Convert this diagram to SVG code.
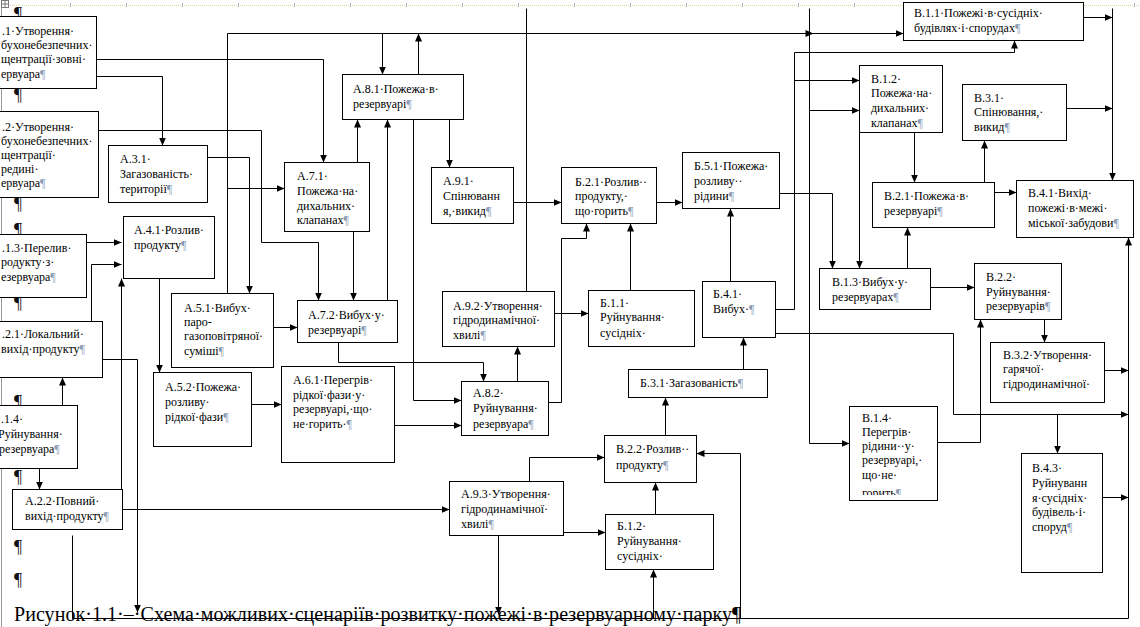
<svg xmlns="http://www.w3.org/2000/svg" width="1140" height="627" viewBox="0 0 1140 627">
<style>
rect.n{fill:#fff;stroke:#000;stroke-width:1}
text{font-family:"Liberation Serif","Times New Roman",serif;font-size:12px;fill:#000}
.pm{fill:#8a9bb5}
.mp{font-size:18px;fill:#111}
.cap{font-size:20px}
.c{fill:none;stroke:#000;stroke-width:1;marker-end:url(#ah)}
.l{fill:none;stroke:#000;stroke-width:1}
</style>
<defs>
<marker id="ah" markerUnits="userSpaceOnUse" markerWidth="9" markerHeight="8" refX="8" refY="4" orient="auto"><path d="M0,0.5 L8,4 L0,7.5 z" fill="#000"/></marker>
<clipPath id="clv14"><rect x="849" y="406" width="90" height="89"/></clipPath>
</defs>
<rect width="1140" height="627" fill="#fff"/>
<g id="page-marks">
<line x1="10" y1="5.5" x2="1140" y2="5.5" stroke="#e3d49a" stroke-dasharray="1 1"/>
<path d="M70.5,3v4M126.5,3v4M182.5,3v4M238.5,3v4M294.5,3v4M350.5,3v4M406.5,3v4M462.5,3v4M518.5,3v4M574.5,3v4M630.5,3v4M686.5,3v4M742.5,3v4M798.5,3v4M854.5,3v4M910.5,3v4M966.5,3v4M1022.5,3v4M1078.5,3v4M1134.5,3v4" stroke="#b8b8b8"/>
<line x1="1.5" y1="0" x2="1.5" y2="627" stroke="#9a9a9a"/>
<rect x="1.5" y="0.5" width="7" height="7" fill="#fff" stroke="#777"/>
<path d="M5,1v6M2,4h6" stroke="#777"/>
<text class="mp" x="14" y="20">¶</text>
<text class="mp" x="14" y="101">¶</text>
<text class="mp" x="14" y="210">¶</text>
<text class="mp" x="14" y="236">¶</text>
<text class="mp" x="14" y="309">¶</text>
<text class="mp" x="14" y="408">¶</text>
<text class="mp" x="14" y="483">¶</text>
<text class="mp" x="14" y="553">¶</text>
<text class="mp" x="14" y="586">¶</text>
</g>
<g id="a11"><rect class="n" x="-9.5" y="16.5" width="106" height="72"/><text x="2" y="35">.1·Утворення·</text><text x="1" y="49">бухонебезпечних·</text><text x="1" y="63">щентрації·зовні·</text><text x="1" y="78">ервуара<tspan class="pm">¶</tspan></text></g>
<g id="a12"><rect class="n" x="-9.5" y="111.5" width="108" height="86"/><text x="2" y="131">.2·Утворення·</text><text x="1" y="145">бухонебезпечних·</text><text x="1" y="159">щентрації·</text><text x="1" y="173">редині·</text><text x="1" y="187">ервуара<tspan class="pm">¶</tspan></text></g>
<g id="a31"><rect class="n" x="108.5" y="145.5" width="99" height="57"/><text x="120" y="163">А.3.1·</text><text x="120" y="178">Загазованість·</text><text x="120" y="193">території<tspan class="pm">¶</tspan></text></g>
<g id="a13"><rect class="n" x="-9.5" y="234.5" width="96" height="63"/><text x="2" y="252">.1.3·Перелив·</text><text x="1" y="266">родукту·з·</text><text x="1" y="281">езервуара<tspan class="pm">¶</tspan></text></g>
<g id="a41"><rect class="n" x="123.5" y="216.5" width="91" height="62"/><text x="134" y="234">А.4.1·Розлив·</text><text x="134" y="249">продукту<tspan class="pm">¶</tspan></text></g>
<g id="a21"><rect class="n" x="-9.5" y="321.5" width="112" height="56"/><text x="2" y="338">.2.1·Локальний·</text><text x="1" y="353">вихід·продукту<tspan class="pm">¶</tspan></text></g>
<g id="a51"><rect class="n" x="171.5" y="293.5" width="102" height="74"/><text x="184" y="312">А.5.1·Вибух·</text><text x="184" y="326">паро-</text><text x="184" y="340">газоповітряної·</text><text x="184" y="355">суміші<tspan class="pm">¶</tspan></text></g>
<g id="a52"><rect class="n" x="153.5" y="372.5" width="98" height="74"/><text x="165" y="391">А.5.2·Пожежа·</text><text x="165" y="406">розливу·</text><text x="165" y="421">рідкої·фази<tspan class="pm">¶</tspan></text></g>
<g id="a14"><rect class="n" x="-9.5" y="405.5" width="87" height="63"/><text x="1" y="423">.1.4·</text><text x="-2" y="438">Руйнування·</text><text x="-1" y="453">резервуара<tspan class="pm">¶</tspan></text></g>
<g id="a22"><rect class="n" x="12.5" y="489.5" width="110" height="40"/><text x="25" y="505">А.2.2·Повний·</text><text x="25" y="520">вихід·продукту<tspan class="pm">¶</tspan></text></g>
<g id="a71"><rect class="n" x="284.5" y="162.5" width="85" height="69"/><text x="297" y="180">А.7.1·</text><text x="297" y="195">Пожежа·на·</text><text x="297" y="210">дихальних·</text><text x="297" y="224">клапанах<tspan class="pm">¶</tspan></text></g>
<g id="a81"><rect class="n" x="342.5" y="74.5" width="121" height="45"/><text x="353" y="93">А.8.1·Пожежа·в·</text><text x="353" y="108">резервуарі<tspan class="pm">¶</tspan></text></g>
<g id="a91"><rect class="n" x="431.5" y="167.5" width="82" height="56"/><text x="443" y="185">А.9.1·</text><text x="443" y="200">Спінюванн</text><text x="443" y="215">я,·викид<tspan class="pm">¶</tspan></text></g>
<g id="a72"><rect class="n" x="297.5" y="300.5" width="100" height="42"/><text x="308" y="319">А.7.2·Вибух·у·</text><text x="308" y="334">резервуарі<tspan class="pm">¶</tspan></text></g>
<g id="a61"><rect class="n" x="281.5" y="366.5" width="113" height="96"/><text x="293" y="384">А.6.1·Перегрів·</text><text x="293" y="399">рідкої·фази·у·</text><text x="293" y="413">резервуарі,·що·</text><text x="293" y="428">не·горить·<tspan class="pm">¶</tspan></text></g>
<g id="a82"><rect class="n" x="461.5" y="381.5" width="87" height="54"/><text x="473" y="397">А.8.2·</text><text x="473" y="412">Руйнування·</text><text x="473" y="428">резервуара<tspan class="pm">¶</tspan></text></g>
<g id="a92"><rect class="n" x="442.5" y="291.5" width="112" height="55"/><text x="453" y="310">А.9.2·Утворення·</text><text x="453" y="324">гідродинамічної·</text><text x="453" y="339">хвилі<tspan class="pm">¶</tspan></text></g>
<g id="a93"><rect class="n" x="449.5" y="481.5" width="114" height="54"/><text x="461" y="498">А.9.3·Утворення·</text><text x="461" y="513">гідродинамічної·</text><text x="461" y="528">хвилі<tspan class="pm">¶</tspan></text></g>
<g id="b21"><rect class="n" x="561.5" y="167.5" width="95" height="56"/><text x="575" y="186">Б.2.1·Розлив··</text><text x="575" y="200">продукту,·</text><text x="575" y="215">що·горить<tspan class="pm">¶</tspan></text></g>
<g id="b51"><rect class="n" x="682.5" y="152.5" width="97" height="56"/><text x="694" y="170">Б.5.1·Пожежа·</text><text x="694" y="185">розливу··</text><text x="694" y="200">рідини<tspan class="pm">¶</tspan></text></g>
<g id="b11"><rect class="n" x="588.5" y="290.5" width="106" height="56"/><text x="600" y="307">Б.1.1·</text><text x="600" y="321">Руйнування·</text><text x="600" y="337">сусідніх·</text></g>
<g id="b41"><rect class="n" x="702.5" y="281.5" width="73" height="56"/><text x="713" y="298">Б.4.1·</text><text x="713" y="313">Вибух·<tspan class="pm">¶</tspan></text></g>
<g id="b31"><rect class="n" x="628.5" y="369.5" width="139" height="28"/><text x="640" y="387">Б.3.1·Загазованість<tspan class="pm">¶</tspan></text></g>
<g id="v22a"><rect class="n" x="604.5" y="435.5" width="92" height="47"/><text x="616" y="453">В.2.2·Розлив··</text><text x="616" y="469">продукту<tspan class="pm">¶</tspan></text></g>
<g id="b12"><rect class="n" x="605.5" y="514.5" width="108" height="55"/><text x="617" y="530">Б.1.2·</text><text x="617" y="545">Руйнування·</text><text x="617" y="560">сусідніх·</text></g>
<g id="v11"><rect class="n" x="903.5" y="2.5" width="180" height="38"/><text x="914" y="17">В.1.1·Пожежі·в·сусідніх·</text><text x="914" y="32">будівлях·і·спорудах<tspan class="pm">¶</tspan></text></g>
<g id="v12"><rect class="n" x="859.5" y="65.5" width="83" height="67"/><text x="871" y="83">В.1.2·</text><text x="871" y="97">Пожежа·на·</text><text x="871" y="112">дихальних·</text><text x="871" y="127">клапанах<tspan class="pm">¶</tspan></text></g>
<g id="v31"><rect class="n" x="962.5" y="84.5" width="104" height="56"/><text x="974" y="102">В.3.1·</text><text x="974" y="116">Спінювання,·</text><text x="974" y="131">викид<tspan class="pm">¶</tspan></text></g>
<g id="v21"><rect class="n" x="872.5" y="182.5" width="122" height="45"/><text x="884" y="200">В.2.1·Пожежа·в·</text><text x="884" y="215">резервуарі<tspan class="pm">¶</tspan></text></g>
<g id="v41"><rect class="n" x="1016.5" y="180.5" width="117" height="57"/><text x="1028" y="197">В.4.1·Вихід·</text><text x="1028" y="212">пожежі·в·межі·</text><text x="1028" y="227">міської·забудови<tspan class="pm">¶</tspan></text></g>
<g id="v13"><rect class="n" x="819.5" y="268.5" width="111" height="41"/><text x="832" y="286">В.1.3·Вибух·у·</text><text x="832" y="301">резервуарах<tspan class="pm">¶</tspan></text></g>
<g id="v22b"><rect class="n" x="974.5" y="263.5" width="87" height="56"/><text x="986" y="281">В.2.2·</text><text x="986" y="296">Руйнування·</text><text x="986" y="310">резервуарів<tspan class="pm">¶</tspan></text></g>
<g id="v32"><rect class="n" x="990.5" y="342.5" width="114" height="60"/><text x="1003" y="359">В.3.2·Утворення·</text><text x="1003" y="373">гарячої·</text><text x="1003" y="388">гідродинамічної·</text></g>
<g id="v14"><rect class="n" x="849.5" y="406.5" width="88" height="94"/><g clip-path="url(#clv14)"><text x="862" y="422">В.1.4·</text><text x="862" y="436">Перегрів·</text><text x="862" y="450">рідини··у·</text><text x="862" y="464">резервуарі,·</text><text x="862" y="479">що·не·</text><text x="862" y="497">горить<tspan class="pm">¶</tspan></text></g></g>
<g id="v43"><rect class="n" x="1021.5" y="453.5" width="81" height="119"/><text x="1032" y="472">В.4.3·</text><text x="1032" y="487">Руйнуванн</text><text x="1032" y="502">я·сусідніх·</text><text x="1032" y="516">будівель·і·</text><text x="1032" y="531">споруд<tspan class="pm">¶</tspan></text></g>
<g id="caption"><text class="cap" x="14" y="621" textLength="718" lengthAdjust="spacing">Рисунок·1.1·–·Схема·можливих·сценаріїв·розвитку·пожежі·в·резервуарному·парку</text><text class="cap" x="732" y="621">¶</text></g>
<g id="connectors" transform="translate(0.5,0.5)">
<polyline class="c" points="96,59 323,59 323,162"/>
<polyline class="c" points="96,76 162,76 162,145"/>
<polyline class="c" points="98,130 261,130 261,242 318,242 318,300"/>
<polyline class="c" points="207,157 249,157 249,293"/>
<polyline class="c" points="227,293 227,33 903,33"/>
<polygon points="805,29.5 813,33 805,36.5" fill="#000"/>
<polyline class="c" points="227,188 284,188"/>
<polyline class="c" points="382,33 382,74"/>
<polyline class="c" points="418,74 418,33"/>
<polyline class="c" points="357,162 357,119"/>
<polyline class="c" points="387,300 387,119"/>
<polyline class="c" points="413,119 413,400 461,400"/>
<polyline class="c" points="449,119 449,167"/>
<polyline class="c" points="353,231 353,300"/>
<polyline class="c" points="273,327 297,327"/>
<polyline class="c" points="86,242 121,242"/>
<polyline class="c" points="91,321 91,264 121,264"/>
<polyline class="c" points="102,359 137,359 137,612"/>
<polyline class="c" points="62,405 62,377"/>
<polyline class="c" points="39,468 39,489"/>
<polyline class="c" points="121,489 121,278"/>
<polyline class="c" points="159,278 159,372"/>
<polyline class="c" points="251,404 281,404"/>
<polyline class="c" points="394,425 461,425"/>
<polyline class="c" points="338,342 338,362 483,362 483,381"/>
<polyline class="c" points="517,381 517,346"/>
<polyline class="c" points="548,402 561,402 561,238 586,238 586,223"/>
<polyline class="l" points="526,291 526,8"/>
<polyline class="c" points="554,313 588,313"/>
<polyline class="c" points="513,202 561,202"/>
<polyline class="c" points="656,202 682,202"/>
<polyline class="c" points="630,290 630,223"/>
<polyline class="c" points="730,281 730,208"/>
<polyline class="c" points="743,369 743,337"/>
<polyline class="c" points="665,435 665,397"/>
<polyline class="c" points="655,514 655,482"/>
<polyline class="c" points="122,509 449,509"/>
<polyline class="c" points="529,481 529,457 604,457"/>
<polyline class="c" points="563,532 605,532"/>
<polyline class="c" points="498,535 498,614"/>
<polyline class="c" points="72,535 72,618 1128,618 1128,237"/>
<polyline class="c" points="740,618 740,453 696,453"/>
<polyline class="c" points="653,618 653,569"/>
<polyline class="c" points="775,309 794,309 794,52 1014,52 1014,40"/>
<polyline class="c" points="794,80 859,80"/>
<polyline class="c" points="809,8 809,443 849,443"/>
<polyline class="c" points="809,110 859,110"/>
<polyline class="c" points="779,193 832,193 832,268"/>
<polyline class="c" points="859,132 859,268"/>
<polyline class="c" points="914,132 914,182"/>
<polyline class="c" points="984,182 984,140"/>
<polyline class="c" points="994,192 1016,192"/>
<polyline class="c" points="1083,17 1112,17"/>
<polyline class="c" points="1112,8 1112,180"/>
<polyline class="c" points="1066,108 1112,108"/>
<polyline class="c" points="907,268 907,227"/>
<polyline class="c" points="930,287 974,287"/>
<polyline class="c" points="1044,319 1044,342"/>
<polyline class="c" points="1104,370 1128,370"/>
<polyline class="c" points="937,442 980,442 980,319"/>
<polyline class="c" points="775,333 953,333 953,414 1128,414"/>
<polyline class="c" points="1057,414 1057,453"/>
<polyline class="c" points="1102,497 1128,497"/>
</g>
</svg>
